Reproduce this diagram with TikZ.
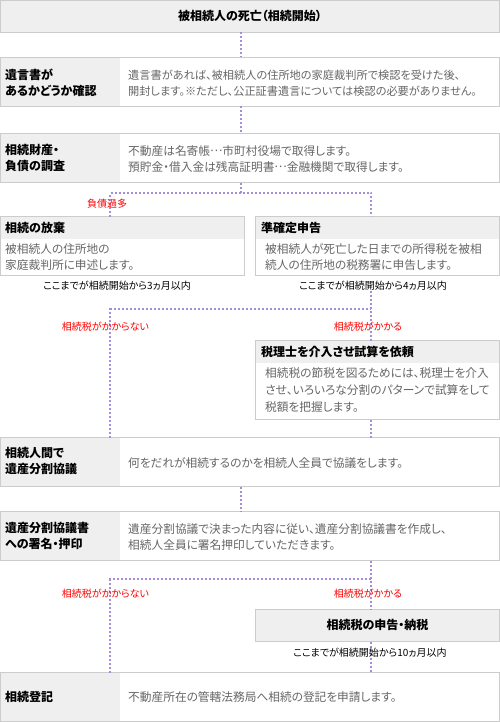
\documentclass[tikz,border=0pt]{standalone}
\usepackage{fontspec}
\setmainfont{Noto Sans CJK JP}[RawFeature=+palt]
\definecolor{bd}{HTML}{CCCCCC}
\definecolor{gf}{HTML}{EFEFEF}
\definecolor{tx}{HTML}{666666}
\definecolor{dotc}{HTML}{A48ED8}
\definecolor{redc}{HTML}{FF0000}
\newcommand\midellip{\raisebox{0.36em}{…}}
\begin{document}
\begin{tikzpicture}[x=1pt,y=-1pt,
  box/.style={draw=bd, line width=1pt, fill=white, anchor=north west, inner sep=0pt, outer sep=0pt, rectangle},
  graybox/.style={box, fill=gf},
  leftbox/.style={box, path picture={\fill[gf] (path picture bounding box.north west) rectangle ([xshift=119.5pt]path picture bounding box.south west);}},
  hdrbox/.style={box, path picture={\fill[gf] (path picture bounding box.north west) rectangle ([yshift=-22.5pt]path picture bounding box.north east);}},
  lbl/.style={font=\bfseries\fontsize{12}{16}\selectfont, text=black, align=left, anchor=west, inner sep=0pt},
  body/.style={font=\fontsize{11.7}{16}\selectfont, text=tx, align=left, anchor=west, inner sep=0pt},
  redlbl/.style={font=\fontsize{10}{12}\selectfont, text=redc, inner sep=0pt},
  notelbl/.style={font=\fontsize{10}{12}\selectfont, text=black, inner sep=0pt},
  dotl/.style={draw=dotc, line width=2pt, dash pattern=on 2pt off 2pt}
]
\useasboundingbox (0,0) rectangle (500,722);
% coordinates for connector columns
\coordinate (cx) at (241,0);
\coordinate (lx) at (110,0);
\coordinate (rx) at (371,0);
\coordinate (j1) at (0,193);
\coordinate (j2) at (0,309);
\coordinate (j3) at (0,579);

% boxes
\node[graybox, minimum width=499pt, minimum height=32pt] (b1) at (0.5,0.5) {};
\node[leftbox, minimum width=499pt, minimum height=49pt] (b2) at (0.5,57.5) {};
\node[leftbox, minimum width=499pt, minimum height=49pt] (b3) at (0.5,133.5) {};
\node[hdrbox, minimum width=244pt, minimum height=59pt] (b4) at (0.5,216.5) {};
\node[hdrbox, minimum width=244pt, minimum height=59pt] (b5) at (255.5,216.5) {};
\node[hdrbox, minimum width=244pt, minimum height=79pt] (b6) at (255.5,340.5) {};
\node[leftbox, minimum width=499pt, minimum height=49pt] (b7) at (0.5,437.5) {};
\node[leftbox, minimum width=499pt, minimum height=49pt] (b8) at (0.5,511.5) {};
\node[graybox, minimum width=244pt, minimum height=32pt] (b9) at (255.5,609.5) {};
\node[leftbox, minimum width=499pt, minimum height=49pt] (b10) at (0.5,672.5) {};

% box texts
\node[lbl, anchor=center] (t1) at (250,16) {被相続人の死亡（相続開始）};
\node[lbl] (l2) at (5,83) {遺言書が\\あるかどうか確認};
\node[body, font=\fontsize{11.2}{16}\selectfont] (d2) at (128,83) {遺言書があれば、被相続人の住所地の家庭裁判所で検認を受けた後、\\開封します。※ただし、公正証書遺言については検認の必要がありません。};
\node[lbl] (l3) at (5,158) {相続財産・\\負債の調査};
\node[body] (d3) at (128,159) {不動産は名寄帳\midellip 市町村役場で取得します。\\預貯金・借入金は残高証明書\midellip 金融機関で取得します。};
\node[lbl] (l4) at (5,228) {相続の放棄};
\node[body] (d4) at (5,257) {被相続人の住所地の\\家庭裁判所に申述します。};
\node[lbl] (l5) at (261,228) {準確定申告};
\node[body] (d5) at (265,257) {被相続人が死亡した日までの所得税を被相\\続人の住所地の税務署に申告します。};
\node[lbl] (l6) at (261,352) {税理士を介入させ試算を依頼};
\node[body, font=\fontsize{11.7}{17}\selectfont] (d6) at (265,390) {相続税の節税を図るためには、税理士を介入\\させ、いろいろな分割のパターンで試算をして\\税額を把握します。};
\node[lbl] (l7) at (5,461) {相続人間で\\遺産分割協議};
\node[body] (d7) at (128,463) {何をだれが相続するのかを相続人全員で協議をします。};
\node[lbl] (l8) at (5,536) {遺産分割協議書\\への署名・押印};
\node[body] (d8) at (128,537) {遺産分割協議で決まった内容に従い、遺産分割協議書を作成し、\\相続人全員に署名押印していただきます。};
\node[lbl, anchor=center] (t9) at (377.5,625) {相続税の申告・納税};
\node[lbl] (l10) at (5,697) {相続登記};
\node[body] (d10) at (128,697) {不動産所在の管轄法務局へ相続の登記を申請します。};

% notes
\node[notelbl] (n4) at (117,286) {ここまでが相続開始から3ヵ月以内};
\node[notelbl] (n5) at (373,286) {ここまでが相続開始から4ヵ月以内};

% connectors
\draw[dotl] (b1.south -| cx) -- (b2.north -| cx);
\draw[dotl] (b2.south -| cx) -- (b3.north -| cx);
\draw[dotl] (b3.south -| cx) -- (cx |- j1);
\draw[dotl] (b4.north -| lx) -- (lx |- j1) -- (rx |- j1) -- (b5.north -| rx);
\draw[dotl] (n5.south -| rx) -- (b6.north -| rx);
\draw[dotl] (b7.north -| lx) -- (lx |- j2) -- (rx |- j2);
\draw[dotl] (b6.south -| rx) -- (b7.north -| rx);
\draw[dotl] (b7.south -| cx) -- (b8.north -| cx);
\draw[dotl] (b8.south -| rx) -- (b9.north -| rx);
\draw[dotl] (b10.north -| lx) -- (lx |- j3) -- (rx |- j3);
\draw[dotl] (b9.south -| rx) -- (b10.north -| rx);

% labels on connectors
\node[redlbl] (r1) at (107,204) {負債過多};
\node[redlbl] (r2) at (105.5,327) {相続税がかからない};
\node[redlbl] (r3) at (368,327) {相続税がかかる};
\node[redlbl] (r4) at (105.5,594) {相続税がかからない};
\node[redlbl] (r5) at (368,594) {相続税がかかる};
\node[notelbl] (n9) at (370,653) {ここまでが相続開始から10ヵ月以内};
\end{tikzpicture}
\end{document}
